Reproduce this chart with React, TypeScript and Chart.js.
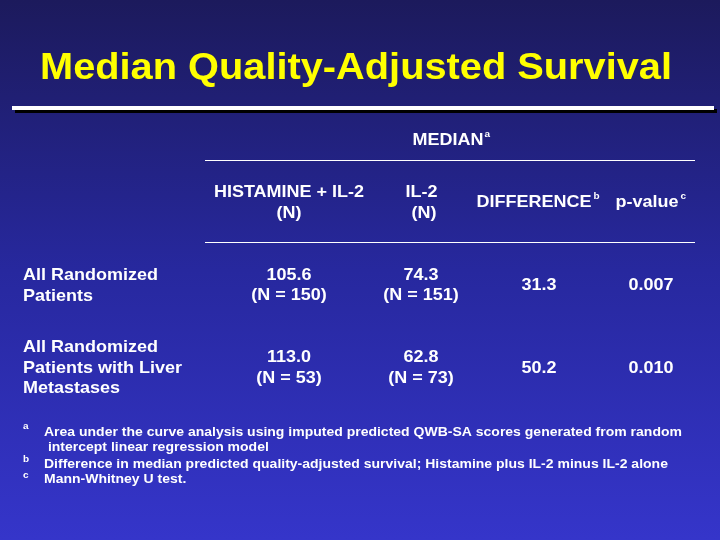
import React, { useEffect, useRef } from "react";
import { Chart, registerables } from "chart.js";

Chart.register(...registerables);

const titleText = "Median Quality-Adjusted Survival";
const groupHeader = "MEDIAN";
const groupHeaderNote = "a";
const columnHeaders: string[][] = [
  ["HISTAMINE + IL-2", "(N)"],
  ["IL-2", "(N)"],
  ["DIFFERENCE"],
  ["p-value"],
];
const columnHeaderNotes = ["", "", "b", "c"];
const rowLabels: string[][] = [
  ["All Randomized", "Patients"],
  ["All Randomized", "Patients with Liver", "Metastases"],
];
const histamineMedian = ["105.6", "113.0"];
const histamineN = [150, 53];
const il2Median = ["74.3", "62.8"];
const il2N = [151, 73];
const differences = ["31.3", "50.2"];
const pValues = ["0.007", "0.010"];
const footnoteMarks = ["a", "b", "c"];
const footnotes: string[][] = [
  [
    "Area under the curve analysis using imputed predicted QWB-SA scores generated from random",
    " intercept linear regression model",
  ],
  ["Difference in median predicted quality-adjusted survival; Histamine plus IL-2 minus IL-2 alone"],
  ["Mann-Whitney U test."],
];

const FONT = "'Liberation Sans', Arial, Helvetica, sans-serif";

function txt(
  ctx: CanvasRenderingContext2D,
  s: string,
  x: number,
  y: number,
  size: number,
  align: CanvasTextAlign,
  sy = 0.88,
  color = "#ffffff",
  fitWidth?: number
) {
  ctx.save();
  ctx.font = `bold ${size}px ${FONT}`;
  ctx.fillStyle = color;
  ctx.textAlign = align;
  ctx.textBaseline = "alphabetic";
  ctx.translate(x, y);
  const sx = fitWidth ? fitWidth / ctx.measureText(s).width : 1;
  ctx.scale(sx, sy);
  ctx.fillText(s, 0, 0);
  ctx.restore();
}

function width(ctx: CanvasRenderingContext2D, s: string, size: number) {
  ctx.font = `bold ${size}px ${FONT}`;
  return ctx.measureText(s).width;
}

const slidePlugin = {
  id: "slide",
  beforeDraw(chart: any) {
    const { ctx, width: w, height } = chart;
    const g = ctx.createLinearGradient(0, 0, 0, height);
    g.addColorStop(0, "#1c1a5c");
    g.addColorStop(0.5, "#27289e");
    g.addColorStop(1, "#3535ca");
    ctx.save();
    ctx.fillStyle = g;
    ctx.fillRect(0, 0, w, height);
    ctx.restore();
  },
  afterDraw(chart: any) {
    const ctx: CanvasRenderingContext2D = chart.ctx;
    const X = (v: number) => chart.scales.x.getPixelForValue(v);
    const Y = (v: number) => chart.scales.y.getPixelForValue(v);
    ctx.save();

    // title
    txt(ctx, titleText, X(356), Y(79), 36, "center", 1, "#ffff00", 632);

    // rule with shadow
    ctx.fillStyle = "#000000";
    ctx.fillRect(X(15), Y(109), X(717) - X(15), 4);
    ctx.fillStyle = "#ffffff";
    ctx.fillRect(X(12), Y(106), X(714) - X(12), 4);

    // group header
    txt(ctx, groupHeader, X(448), Y(145), 18, "center");
    const gw = width(ctx, groupHeader, 18);
    txt(ctx, groupHeaderNote, X(448) + gw / 2 + 1, Y(137), 10, "left");

    // lines
    ctx.strokeStyle = "#ffffff";
    ctx.lineWidth = 1;
    [160.5, 242.5].forEach((yy) => {
      ctx.beginPath();
      ctx.moveTo(X(205), Y(yy));
      ctx.lineTo(X(695), Y(yy));
      ctx.stroke();
    });

    // column headers
    const hx = [289, 421.5, 534, 647];
    columnHeaders.forEach((lines, i) => {
      const n = lines.length;
      lines.forEach((l, j) => {
        const yy = n === 1 ? 207 : 197 + j * 21;
        const xx = i === 1 && j === 1 ? 424 : hx[i];
        txt(ctx, l, X(xx), Y(yy), 18, "center");
      });
      if (columnHeaderNotes[i]) {
        const w = width(ctx, lines[0], 18);
        txt(ctx, columnHeaderNotes[i], X(hx[i]) + w / 2 + 2, Y(199), 10, "left");
      }
    });

    // rows
    const rowTop = [280, 352];
    rowLabels.forEach((lines, r) => {
      lines.forEach((l, j) => txt(ctx, l, X(23), Y(rowTop[r] + j * 20.5), 18, "left"));
      const mid = rowTop[r] + ((lines.length - 1) * 20.5) / 2;
      const vTop = mid - 10.5;
      txt(ctx, histamineMedian[r], X(289), Y(vTop), 18, "center");
      txt(ctx, `(N = ${histamineN[r]})`, X(289), Y(vTop + 20.5), 18, "center");
      txt(ctx, il2Median[r], X(421), Y(vTop), 18, "center");
      txt(ctx, `(N = ${il2N[r]})`, X(421), Y(vTop + 20.5), 18, "center");
      txt(ctx, differences[r], X(539), Y(mid), 18, "center");
      txt(ctx, pValues[r], X(651), Y(mid), 18, "center");
    });

    // footnotes
    const fy = [436, 468, 483];
    const my = [429, 462, 478];
    footnotes.forEach((lines, i) => {
      txt(ctx, footnoteMarks[i], X(23), Y(my[i]), 10, "left");
      lines.forEach((l, j) => txt(ctx, l, X(44), Y(fy[i] + j * 15), 14, "left", 0.86));
    });

    ctx.restore();
  },
};

export default function App() {
  const ref = useRef<HTMLCanvasElement>(null);
  useEffect(() => {
    document.body.style.margin = "0";
    const chart = new Chart(ref.current!, {
      type: "scatter",
      data: { datasets: [{ data: [], pointRadius: 0 }] },
      options: {
        animation: false,
        responsive: false,
        layout: { padding: 0 },
        plugins: { legend: { display: false }, tooltip: { enabled: false } },
        scales: {
          x: { type: "linear", min: 0, max: 720, display: false },
          y: { type: "linear", min: 0, max: 540, reverse: true, display: false },
        },
      },
      plugins: [slidePlugin],
    });
    return () => chart.destroy();
  }, []);
  return (
    <div style={{ position: "fixed", left: 0, top: 0, width: 720, height: 540 }}>
      <canvas ref={ref} width={720} height={540} />
    </div>
  );
}
